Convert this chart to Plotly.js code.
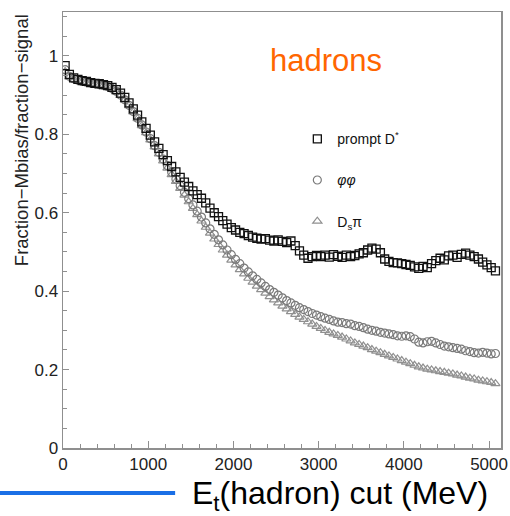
<!DOCTYPE html>
<html>
<head>
<meta charset="utf-8">
<script src="https://cdn.plot.ly/plotly-3.0.1.min.js"></script>
<style>html,body{margin:0;padding:0;background:#fff;}#chart{width:510px;height:516px;}</style>
</head>
<body>
<div id="chart"></div>
<script>
const etCutMeV = [
25,75,125,175,225,275,325,375,425,475,
525,575,625,675,725,775,825,875,925,975,
1025,1075,1125,1175,1225,1275,1325,1375,1425,1475,
1525,1575,1625,1675,1725,1775,1825,1875,1925,1975,
2025,2075,2125,2175,2225,2275,2325,2375,2425,2475,
2525,2575,2625,2675,2725,2775,2825,2875,2925,2975,
3025,3075,3125,3175,3225,3275,3325,3375,3425,3475,
3525,3575,3625,3675,3725,3775,3825,3875,3925,3975,
4025,4075,4125,4175,4225,4275,4325,4375,4425,4475,
4525,4575,4625,4675,4725,4775,4825,4875,4925,4975,
5025,5075];

const promptDstar = [
0.975,0.953,0.944,0.940,0.937,0.935,0.932,0.930,0.929,0.927,
0.924,0.920,0.914,0.905,0.894,0.880,0.865,0.849,0.832,0.815,
0.798,0.781,0.764,0.748,0.733,0.718,0.704,0.690,0.678,0.667,
0.656,0.646,0.637,0.625,0.612,0.600,0.590,0.580,0.571,0.562,
0.556,0.550,0.547,0.542,0.538,0.535,0.533,0.534,0.530,0.528,
0.531,0.527,0.524,0.528,0.516,0.503,0.492,0.484,0.488,0.491,
0.488,0.492,0.487,0.493,0.489,0.486,0.492,0.488,0.491,0.495,
0.498,0.505,0.510,0.507,0.498,0.482,0.476,0.473,0.472,0.470,
0.468,0.466,0.462,0.458,0.463,0.460,0.470,0.478,0.484,0.480,
0.490,0.492,0.486,0.494,0.497,0.492,0.488,0.482,0.474,0.467,
0.460,0.452];

const phiPhi = [
0.965,0.948,0.942,0.938,0.935,0.933,0.931,0.929,0.927,0.925,
0.922,0.917,0.910,0.900,0.888,0.874,0.858,0.841,0.824,0.806,
0.789,0.771,0.754,0.737,0.720,0.703,0.686,0.669,0.652,0.636,
0.620,0.604,0.589,0.574,0.559,0.545,0.531,0.518,0.505,0.493,
0.481,0.470,0.459,0.449,0.439,0.430,0.421,0.412,0.404,0.397,
0.390,0.383,0.376,0.370,0.364,0.358,0.353,0.348,0.343,0.339,
0.335,0.331,0.328,0.324,0.321,0.320,0.317,0.316,0.312,0.310,
0.307,0.303,0.300,0.298,0.295,0.293,0.291,0.289,0.286,0.285,
0.286,0.284,0.278,0.270,0.268,0.271,0.272,0.268,0.264,0.260,
0.258,0.256,0.254,0.252,0.248,0.246,0.243,0.242,0.244,0.242,
0.240,0.241];

const dsPi = [
0.960,0.946,0.940,0.937,0.934,0.932,0.930,0.928,0.926,0.924,
0.921,0.916,0.909,0.899,0.887,0.873,0.857,0.840,0.822,0.804,
0.786,0.768,0.750,0.732,0.714,0.697,0.680,0.662,0.645,0.628,
0.611,0.595,0.579,0.563,0.548,0.533,0.519,0.505,0.492,0.479,
0.467,0.455,0.444,0.433,0.423,0.413,0.404,0.395,0.386,0.378,
0.370,0.362,0.355,0.348,0.341,0.334,0.328,0.322,0.316,0.310,
0.305,0.300,0.295,0.291,0.287,0.283,0.278,0.273,0.268,0.264,
0.260,0.256,0.251,0.247,0.243,0.239,0.235,0.231,0.227,0.223,
0.219,0.215,0.211,0.207,0.204,0.201,0.199,0.197,0.195,0.193,
0.191,0.189,0.186,0.184,0.181,0.178,0.176,0.173,0.171,0.169,
0.167,0.164];

const seriesNames = ['prompt D<sup>*</sup>', '<i>φφ</i>', 'D<sub>s</sub>π'];
const xTitle = 'E<sub>t</sub>(hadron) cut (MeV)';
const yTitle = 'Fraction−Mbias/fraction−signal';
const panelLabel = 'hadrons';

const FONT = '"Liberation Sans", Arial, Helvetica, sans-serif';
const AX = '#8f8f8f';

const traces = [
  {x: etCutMeV, y: dsPi, name: seriesNames[2], type: 'scatter', mode: 'markers',
   legendgroup: 'c', legendrank: 3,
   marker: {symbol: 'triangle-up-open', size: 8, color: '#909090', line: {width: 1.2}}},
  {x: etCutMeV, y: phiPhi, name: seriesNames[1], type: 'scatter', mode: 'markers',
   legendgroup: 'b', legendrank: 2,
   marker: {symbol: 'circle-open', size: 8, color: '#7a7a7a', line: {width: 1.2}}},
  {x: etCutMeV, y: promptDstar, name: seriesNames[0], type: 'scatter', mode: 'markers',
   legendgroup: 'a', legendrank: 1,
   marker: {symbol: 'square-open', size: 8, color: '#111111', line: {width: 1.3}}}
];

const layout = {
  width: 510, height: 516,
  margin: {l: 63, r: 9, t: 12, b: 68},
  paper_bgcolor: '#ffffff', plot_bgcolor: '#ffffff',
  font: {family: FONT, size: 17, color: '#222'},
  showlegend: true,
  legend: {x: 0.535, y: 0.745, xanchor: 'left', yanchor: 'top',
           bgcolor: 'rgba(0,0,0,0)', borderwidth: 0,
           font: {family: FONT, size: 14, color: '#111'},
           traceorder: 'grouped', tracegroupgap: 20},
  xaxis: {range: [0, 5140], showgrid: false, zeroline: false,
          showline: true, linecolor: AX, linewidth: 1.5, mirror: true,
          ticks: 'inside', ticklen: 7, tickcolor: AX, tickwidth: 1,
          dtick: 1000, tick0: 0,
          minor: {dtick: 200, ticks: 'inside', ticklen: 4, tickcolor: AX, showgrid: false},
          tickfont: {family: FONT, size: 17, color: '#222'}},
  yaxis: {range: [0, 1.112], showgrid: false, zeroline: false,
          showline: true, linecolor: AX, linewidth: 1.5, mirror: true,
          ticks: 'inside', ticklen: 6, tickcolor: AX, tickwidth: 1,
          dtick: 0.2, tick0: 0,
          minor: {dtick: 0.05, ticks: 'inside', ticklen: 4, tickcolor: AX, showgrid: false},
          tickfont: {family: FONT, size: 17, color: '#222'}},
  annotations: [
    {text: panelLabel, xref: 'paper', yref: 'paper', x: 0.600, y: 0.888,
     xanchor: 'center', yanchor: 'middle', showarrow: false,
     font: {family: FONT, size: 31, color: '#ff6600'}},
    {text: yTitle, xref: 'paper', yref: 'paper', x: -0.096, y: 0.706,
     xanchor: 'center', yanchor: 'middle', textangle: -90, showarrow: false,
     font: {family: FONT, size: 18.5, color: '#222'}},
    {text: xTitle, xref: 'paper', yref: 'paper', x: 0.632, y: -0.108,
     xanchor: 'center', yanchor: 'middle', showarrow: false,
     font: {family: FONT, size: 32, color: '#000'}}
  ],
  shapes: [
    {type: 'line', xref: 'paper', yref: 'paper', x0: -0.145, x1: 0.256, y0: -0.103, y1: -0.103,
     line: {color: '#1a6fe6', width: 4}}
  ]
};

Plotly.newPlot('chart', traces, layout, {displayModeBar: false, staticPlot: true});
</script>
</body>
</html>
